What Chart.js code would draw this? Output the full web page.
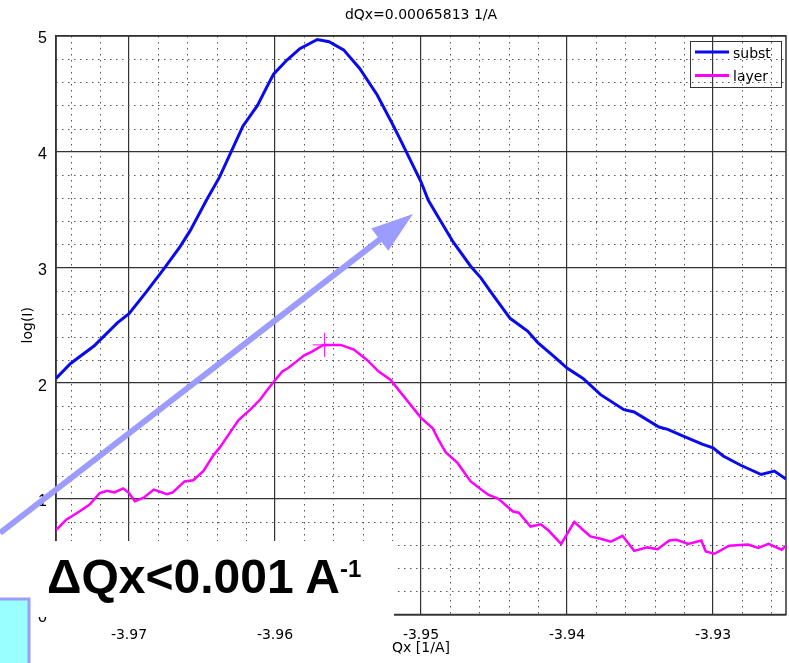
<!DOCTYPE html>
<html>
<head>
<meta charset="utf-8">
<script src="https://cdn.jsdelivr.net/npm/chart.js@4"></script>
<style>
body { margin: 0; background: #fff; }
#wrap { position: relative; width: 789px; height: 663px; overflow: hidden; }
#note { position: absolute; left: 47px; top: 553px; font: bold 48px "Liberation Sans", Arial, sans-serif;
        line-height: 48px; color: #000; white-space: nowrap; }
#note span { font-size: 24px; position: relative; top: -16px; }
</style>
</head>
<body>
<div id="wrap">
  <canvas id="chart" width="789" height="663"></canvas>
  <div id="note">ΔQx&lt;0.001 A<span>-1</span></div>
</div>
<script>
// values
const substQx = [-3.9750, -3.9740, -3.9724, -3.9708, -3.9700, -3.9688, -3.9676, -3.9665, -3.9658, -3.9647,
  -3.9638, -3.9630, -3.9622, -3.9612, -3.9606, -3.9601, -3.9592, -3.9583, -3.9571, -3.9563,
  -3.9553, -3.9542, -3.9530, -3.9520, -3.9514, -3.9500, -3.9495, -3.9487, -3.9478, -3.9466,
  -3.9459, -3.9450, -3.9439, -3.9427, -3.9420, -3.9409, -3.9400, -3.9389, -3.9377, -3.9361,
  -3.9354, -3.9337, -3.9331, -3.9320, -3.9307, -3.9300, -3.9293, -3.9281, -3.9267, -3.9258, -3.9250];
const substLogI = [2.04, 2.17, 2.32, 2.52, 2.60, 2.79, 2.99, 3.18, 3.32, 3.58,
  3.78, 4.00, 4.22, 4.40, 4.55, 4.67, 4.79, 4.89, 4.97, 4.95,
  4.88, 4.72, 4.49, 4.25, 4.10, 3.74, 3.58, 3.41, 3.22, 3.01,
  2.91, 2.75, 2.56, 2.45, 2.35, 2.23, 2.13, 2.04, 1.90, 1.77,
  1.75, 1.62, 1.60, 1.54, 1.47, 1.44, 1.37, 1.29, 1.21, 1.24, 1.17];

const layerQx = [-3.9750, -3.9743, -3.9734, -3.9727, -3.9720, -3.9715, -3.9710, -3.9704, -3.9700, -3.9696,
  -3.9690, -3.9683, -3.9674, -3.9670, -3.9662, -3.9656, -3.9649, -3.9642, -3.9638, -3.9631,
  -3.9625, -3.9617, -3.9610, -3.9606, -3.9601, -3.9595, -3.9591, -3.9585, -3.9580, -3.9575,
  -3.9567, -3.9555, -3.9546, -3.9537, -3.9529, -3.9521, -3.9514, -3.9500, -3.9492, -3.9488,
  -3.9483, -3.9475, -3.9466, -3.9454, -3.9447, -3.9437, -3.9433, -3.9425, -3.9418, -3.9413,
  -3.9404, -3.9395, -3.9389, -3.9384, -3.9377, -3.9370, -3.9362, -3.9354, -3.9345, -3.9338,
  -3.9330, -3.9325, -3.9317, -3.9308, -3.9305, -3.9299, -3.9289, -3.9276, -3.9269, -3.9262,
  -3.9253, -3.9250];
const layerLogI = [0.73, 0.82, 0.89, 0.95, 1.05, 1.07, 1.055, 1.09, 1.05, 0.98,
  1.01, 1.08, 1.04, 1.055, 1.15, 1.16, 1.24, 1.38, 1.44, 1.57,
  1.68, 1.77, 1.86, 1.93, 2.01, 2.10, 2.13, 2.19, 2.24, 2.27,
  2.33, 2.33, 2.29, 2.20, 2.10, 2.03, 1.92, 1.70, 1.61, 1.51,
  1.40, 1.31, 1.15, 1.035, 1.00, 0.89, 0.88, 0.76, 0.78, 0.73,
  0.61, 0.80, 0.73, 0.675, 0.655, 0.63, 0.68, 0.55, 0.58, 0.565,
  0.64, 0.645, 0.61, 0.64, 0.545, 0.525, 0.595, 0.605, 0.575, 0.61,
  0.56, 0.595];

const peakMark = [-3.9566, 2.33];
const xTicks = [-3.97, -3.96, -3.95, -3.94, -3.93];
const yTicks = [0, 1, 2, 3, 4, 5];
const xMinorStep = 0.002;
const yMinorStep = 0.2;

const toPoints = (xs, ys) => xs.map((x, i) => ({x: x, y: ys[i]}));

// dotted minor grid + frame
const minorGrid = {
  id: 'minorGrid',
  beforeDatasetsDraw(chart) {
    const {ctx, chartArea: a, scales: {x, y}} = chart;
    ctx.save();
    ctx.strokeStyle = '#555';
    ctx.lineWidth = 1;
    ctx.setLineDash([1.5, 4.5]);
    ctx.beginPath();
    for (let k = 1; k * xMinorStep < 0.06; k++) {
      if (k % 5 === 0) continue;
      const v = -3.98 + k * xMinorStep;
      if (v <= x.min || v >= x.max) continue;
      const px = Math.round(x.getPixelForValue(v)) + 0.5;
      ctx.moveTo(px, a.top);
      ctx.lineTo(px, a.bottom);
    }
    for (let k = 1; k < 25; k++) {
      if (k % 5 === 0) continue;
      const py = Math.round(y.getPixelForValue(k * yMinorStep)) + 0.5;
      ctx.moveTo(a.left, py);
      ctx.lineTo(a.right, py);
    }
    ctx.stroke();
    ctx.setLineDash([]);
    ctx.strokeStyle = '#333';
    ctx.lineWidth = 1.5;
    ctx.strokeRect(a.left, a.top, a.right - a.left, a.bottom - a.top);
    ctx.restore();
  },
  afterDatasetsDraw(chart) {
    const {ctx, chartArea: a} = chart;
    const bx = a.right - 96, by = a.top + 5;
    ctx.save();
    ctx.strokeStyle = '#333';
    ctx.lineWidth = 1;
    ctx.strokeRect(bx + 0.5, by + 0.5, 91, 46);
    chart.data.datasets.slice(0, 2).forEach((ds, i) => {
      const yy = by + 11 + i * 23.5;
      ctx.strokeStyle = ds.borderColor;
      ctx.lineWidth = 3;
      ctx.beginPath();
      ctx.moveTo(bx + 5, yy);
      ctx.lineTo(bx + 39, yy);
      ctx.stroke();
      ctx.fillStyle = '#000';
      ctx.font = '14px "DejaVu Sans"';
      ctx.textBaseline = 'middle';
      ctx.fillText(ds.label, bx + 43, yy + 2);
    });
    ctx.restore();
  },
  // pasted-on slide graphics: white patch, arrow, cyan corner box
  afterDraw(chart) {
    const ctx = chart.ctx;
    ctx.save();
    ctx.fillStyle = '#fff';
    ctx.fillRect(0, 541, 394, 76);

    const tip = [413, 214], tail = [0, 533];
    const dx = tip[0] - tail[0], dy = tip[1] - tail[1];
    const len = Math.hypot(dx, dy), ux = dx / len, uy = dy / len;
    const back = [tip[0] - 42 * ux, tip[1] - 42 * uy];
    ctx.strokeStyle = ctx.fillStyle = '#9c9cff';
    ctx.lineWidth = 6;
    ctx.beginPath();
    ctx.moveTo(tail[0], tail[1]);
    ctx.lineTo(back[0] + 4 * ux, back[1] + 4 * uy);
    ctx.stroke();
    ctx.beginPath();
    ctx.moveTo(tip[0], tip[1]);
    ctx.lineTo(back[0] - 14 * uy, back[1] + 14 * ux);
    ctx.lineTo(back[0] + 14 * uy, back[1] - 14 * ux);
    ctx.closePath();
    ctx.fill();

    ctx.fillStyle = '#99ffff';
    ctx.fillRect(0, 599, 28, 64);
    ctx.strokeStyle = '#9c9cff';
    ctx.lineWidth = 3;
    ctx.beginPath();
    ctx.moveTo(0, 599);
    ctx.lineTo(29, 599);
    ctx.lineTo(29, 663);
    ctx.stroke();
    ctx.restore();
  }
};

new Chart(document.getElementById('chart'), {
  type: 'scatter',
  data: {
    datasets: [
      {label: 'subst', data: toPoints(substQx, substLogI), showLine: true, borderColor: '#0a0af0',
       borderWidth: 3, pointRadius: 0, tension: 0},
      {label: 'layer', data: toPoints(layerQx, layerLogI), showLine: true, borderColor: '#ff00ff',
       borderWidth: 2.5, pointRadius: 0, tension: 0},
      {label: 'peak', data: [{x: peakMark[0], y: peakMark[1]}], showLine: false, pointStyle: 'cross',
       pointRadius: 12, borderColor: '#ff00ff', borderWidth: 1}
    ]
  },
  options: {
    responsive: false,
    animation: false,
    devicePixelRatio: 1,
    layout: {autoPadding: false, padding: {right: 3}},
    plugins: {legend: {display: false}, title: {display: false}, tooltip: {enabled: false}},
    scales: {
      x: {
        type: 'linear', position: 'bottom', min: -3.975, max: -3.925,
        afterBuildTicks: s => { s.ticks = xTicks.map(v => ({value: v})); },
        afterFit: s => { s.height = 48.5; },
        ticks: {callback: v => v.toFixed(2), color: '#000', padding: 12,
                font: {family: 'DejaVu Sans', size: 14}},
        grid: {color: '#333', lineWidth: 1.2, drawTicks: false},
        border: {color: '#333', width: 1.5},
        title: {display: true, text: 'Qx [1/A]', color: '#000', padding: {top: 0, bottom: 6},
                font: {family: 'DejaVu Sans', size: 14}}
      },
      xTop: {
        type: 'linear', position: 'top', min: -3.975, max: -3.925,
        afterFit: s => { s.height = 36; },
        ticks: {display: false},
        grid: {display: false},
        border: {display: false},
        title: {display: true, text: 'dQx=0.00065813 1/A', color: '#000', padding: {top: 7, bottom: 0},
                font: {family: 'DejaVu Sans', size: 14}}
      },
      y: {
        type: 'linear', min: 0, max: 5,
        afterBuildTicks: s => { s.ticks = yTicks.map(v => ({value: v})); },
        afterFit: s => { s.width = 56; },
        ticks: {color: '#000', padding: 9, labelOffset: 3,
                font: {family: 'Liberation Sans', size: 16}},
        grid: {color: '#333', lineWidth: 1.2, drawTicks: false},
        border: {color: '#333', width: 1.5},
        title: {display: true, text: 'log(I)', color: '#000', padding: {top: 20, bottom: 0},
                font: {family: 'DejaVu Sans', size: 14}}
      }
    }
  },
  plugins: [minorGrid]
});
</script>
</body>
</html>
